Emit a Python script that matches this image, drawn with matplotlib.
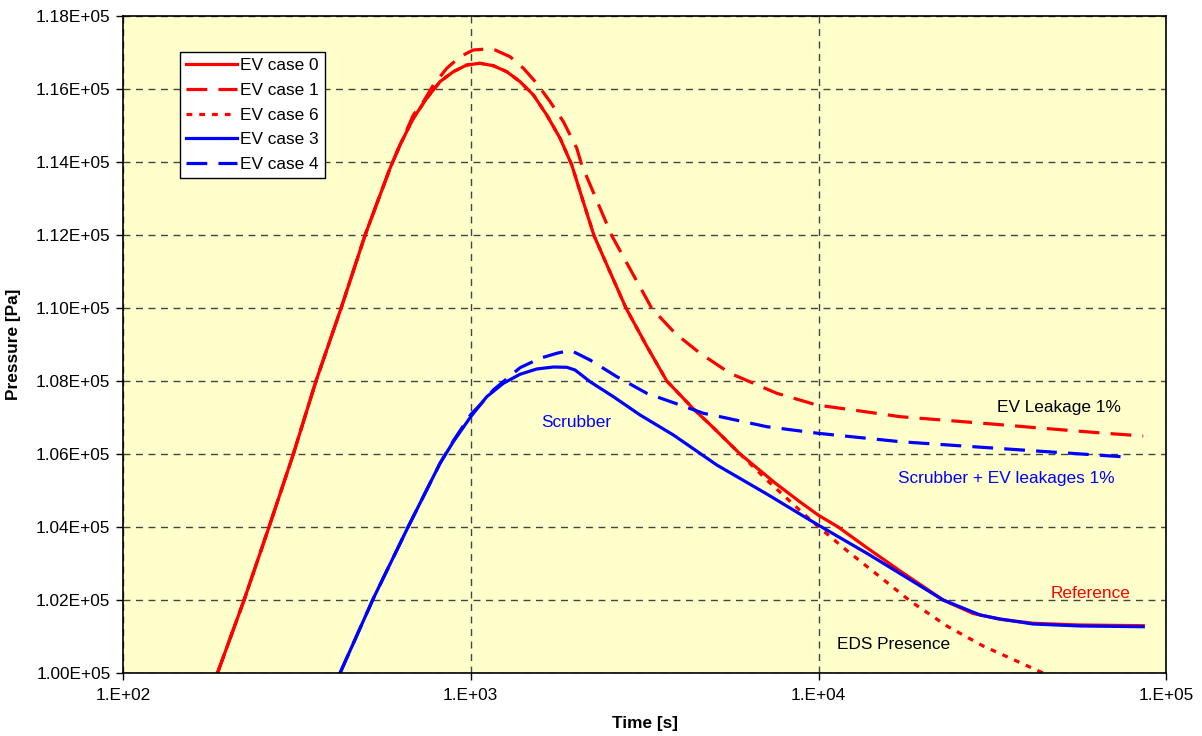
import matplotlib
matplotlib.use("Agg")
import matplotlib.pyplot as plt
from matplotlib.ticker import FixedLocator, FixedFormatter, NullLocator

plt.rcParams['font.family'] = ['Liberation Sans', 'DejaVu Sans']

# Time [s] / pressure [Pa] for each EV case
t_case0 = [187, 223, 263, 309, 359, 424, 497, 586, 626, 684, 747, 816, 891, 974,
           1063, 1161, 1269, 1386, 1514, 1654, 1807, 1952, 2090, 2262, 2515, 2797,
           3193, 3662, 4359, 4877, 5950, 7503, 8852, 9972, 11390, 13770, 17170,
           22820, 27830, 33290, 41420, 56540, 85830]
p_case0 = [100000, 102000, 104000, 106000, 108000, 110000, 112000, 113827, 114466,
           115197, 115745, 116200, 116474, 116657, 116704, 116638, 116474, 116200,
           115836, 115287, 114649, 113918, 113014, 111981, 110986, 109992, 108986,
           108000, 107244, 106808, 106000, 105205, 104685, 104329, 104000, 103433,
           102794, 102000, 101630, 101471, 101362, 101315, 101296]

t_case1 = [187, 223, 263, 309, 359, 424, 497, 586, 626, 684, 731, 781, 853, 932,
           1017, 1112, 1175, 1297, 1417, 1548, 1691, 1847, 2018, 2085, 2544, 2872,
           3315, 3869, 4565, 5568, 6500, 7586, 9887, 13170, 17170, 26700, 33290,
           44250, 64560, 85830]
p_case1 = [100000, 102000, 104000, 106000, 108000, 110000, 112000, 113827, 114466,
           115287, 115652, 116109, 116566, 116885, 117068, 117096, 117068, 116885,
           116567, 116156, 115652, 115104, 114375, 113918, 111981, 111068, 109992,
           109307, 108759, 108211, 107937, 107663, 107342, 107178, 107022, 106877,
           106803, 106704, 106578, 106493]

t_case6 = [187, 223, 263, 309, 359, 424, 497, 586, 626, 684, 747, 816, 891, 974,
           1063, 1161, 1269, 1386, 1514, 1654, 1807, 1952, 2090, 2262, 2515, 2797,
           3193, 3662, 4359, 4877, 5950, 7100, 9030, 9972, 12060, 15040, 18340,
           23390, 29740, 44250]
p_case6 = [100000, 102000, 104000, 106000, 108000, 110000, 112000, 113827, 114466,
           115197, 115745, 116200, 116474, 116657, 116704, 116638, 116474, 116200,
           115836, 115287, 114649, 113918, 113014, 111981, 110986, 109992, 108986,
           108000, 107244, 106808, 106000, 105288, 104375, 104014, 103356, 102630,
           101973, 101288, 100740, 100000]

t_case3 = [421, 525, 661, 816, 891, 1000, 1112, 1241, 1386, 1548, 1729, 1889, 1995,
           2203, 2571, 3069, 3825, 5099, 7100, 9972, 13770, 17170, 22820, 29160,
           33290, 41420, 56540, 85830]
p_case3 = [100000, 102047, 104008, 105745, 106337, 107022, 107570, 107937, 108184,
           108329, 108383, 108375, 108301, 107981, 107570, 107068, 106521, 105699,
           104904, 104055, 103280, 102723, 102000, 101589, 101479, 101342, 101288,
           101268]

t_case4 = [421, 525, 661, 816, 891, 1000, 1063, 1161, 1386, 1582, 1768, 1909, 1973,
           2203, 2630, 3208, 3999, 4667, 5212, 7100, 9972, 17170, 27830, 45360, 78740]
p_case4 = [100000, 102047, 104008, 105745, 106360, 107080, 107342, 107753, 108364,
           108622, 108759, 108830, 108803, 108575, 108118, 107663, 107342, 107115,
           107022, 106748, 106567, 106337, 106200, 106063, 105910]

x_ticks = [1e2, 1e3, 1e4, 1e5]
x_tick_labels = ["1.E+02", "1.E+03", "1.E+04", "1.E+05"]
y_ticks = [100000, 102000, 104000, 106000, 108000, 110000, 112000, 114000, 116000, 118000]
y_tick_labels = ["1.00E+05", "1.02E+05", "1.04E+05", "1.06E+05", "1.08E+05",
                 "1.10E+05", "1.12E+05", "1.14E+05", "1.16E+05", "1.18E+05"]

fs = 12.4

fig = plt.figure(figsize=(12.02, 7.36), dpi=100)
ax = fig.add_axes([0.1023, 0.0856, 0.8680, 0.8927])
ax.set_facecolor('#FFFFCC')

lw = 2.3
ax.plot(t_case0, p_case0, color='#FF0000', lw=lw, ls='-', label='EV case 0')
ax.plot(t_case1, p_case1, color='#FF0000', lw=lw, ls=(0, (6.5, 3.5)), label='EV case 1')
ax.plot(t_case6, p_case6, color='#FF0000', lw=lw, ls=(0, (1.8, 2.2)), label='EV case 6')
ax.plot(t_case3, p_case3, color='#0000FF', lw=lw, ls='-', label='EV case 3')
ax.plot(t_case4, p_case4, color='#0000FF', lw=lw, ls=(0, (6.5, 3.5)), label='EV case 4')

ax.set_xscale('log')
ax.set_xlim(1e2, 1e5)
ax.set_ylim(100000, 118000)

ax.xaxis.set_major_locator(FixedLocator(x_ticks))
ax.xaxis.set_major_formatter(FixedFormatter(x_tick_labels))
ax.xaxis.set_minor_locator(NullLocator())
ax.yaxis.set_major_locator(FixedLocator(y_ticks))
ax.yaxis.set_major_formatter(FixedFormatter(y_tick_labels))

ax.tick_params(axis='both', direction='out', length=5, width=1, labelsize=fs,
               colors='black')
ax.tick_params(axis='x', pad=6)
ax.tick_params(axis='y', pad=4)

ax.grid(True, which='major', color='#444444', ls=(0, (5, 4)), lw=1.0)
ax.set_axisbelow(True)
for sp in ax.spines.values():
    sp.set_color('black')
    sp.set_linewidth(1.2)

ax.set_xlabel('Time [s]', fontsize=fs, fontweight='bold', labelpad=9)
ax.set_ylabel('Pressure [Pa]', fontsize=fs, fontweight='bold', labelpad=11)

leg = ax.legend(loc='upper left', bbox_to_anchor=(0.0547, 0.945), borderaxespad=0,
                fontsize=fs, handlelength=2.95, handletextpad=0.2, labelspacing=0.56,
                borderpad=0.35, fancybox=False, framealpha=1, edgecolor='black')
leg.get_frame().set_linewidth(1.0)

ax.text(2009, 1.0685e5, 'Scrubber', color='#0000FF', fontsize=fs, ha='center', va='center')
ax.text(4.92e4, 1.0726e5, 'EV Leakage 1%', color='black', fontsize=fs, ha='center', va='center')
ax.text(3.476e4, 1.0532e5, 'Scrubber + EV leakages 1%', color='#0000FF', fontsize=fs,
        ha='center', va='center')
ax.text(6.06e4, 1.0217e5, 'Reference', color='#FF0000', fontsize=fs, ha='center', va='center')
ax.text(1.639e4, 1.0077e5, 'EDS Presence', color='black', fontsize=fs, ha='center', va='center')

fig.savefig('out.png', dpi=100)
